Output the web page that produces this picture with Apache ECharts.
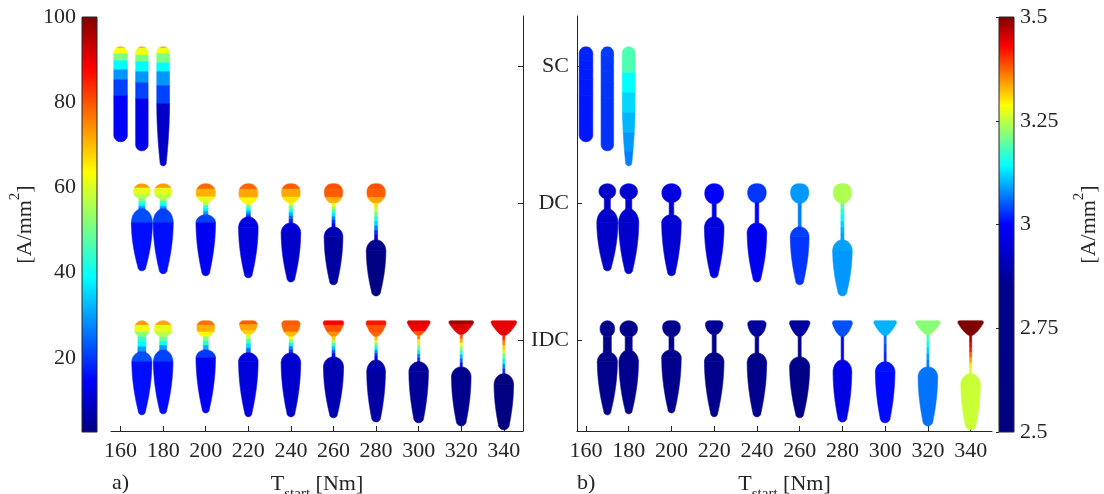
<!DOCTYPE html>
<html><head><meta charset="utf-8">
<script src="https://cdn.jsdelivr.net/npm/echarts@6/dist/echarts.min.js"></script>
<style>html,body{margin:0;padding:0;background:#fff}#c{width:1104px;height:494px}</style>
</head><body><div id="c"></div>
<script>
// ================= DATA =================
const rowNames = ['IDC', 'DC', 'SC'];
const rowValues = [100, 200, 300];            // y value of each winding row
const tickT = [160, 180, 200, 220, 240, 260, 280, 300, 320, 340];
const jTicksA = [20, 40, 60, 80, 100];
const jTicksB = [2.5, 2.75, 3, 3.25, 3.5];
const jRangeA = [2.6, 100];
const jRangeB = [2.5, 3.5];

const tSC = [160, 170, 180];
const tDC = [170, 180, 200, 220, 240, 260, 280];
const tIDC = [170, 180, 200, 220, 240, 260, 280, 300, 320, 340];

// slot geometry in y-axis units: [headW, headH, headShape, neckW, neckL, bodyW, shoulder, bottomW, bodyL, straight]
const geomSC = [
  [0, 0, 0, 0, 0, 9.9, 4.9, 9.9, 69.3, 0],
  [0, 0, 0, 0, 0, 9.1, 4.6, 9.1, 75.9, 0],
  [0, 0, 0, 0, 0, 9.3, 4.6, 4.4, 86.9, 36.5]
];
const geomDC = [
  [12.2, 10.9, 0.0, 4.4, 7.3, 15.3, 10.2, 5.8, 45.3, 0],
  [12.8, 11.3, 0.0, 4.4, 6.9, 14.6, 10.2, 5.8, 47.4, 0],
  [14.2, 13.6, 0.05, 3.3, 9.0, 14.2, 5.8, 5.8, 44.5, 0],
  [14.2, 14.6, 0.1, 2.9, 9.5, 14.2, 8.0, 5.8, 44.5, 0],
  [14.2, 13.9, 0.15, 2.6, 14.6, 14.2, 7.3, 5.8, 43.1, 0],
  [14.2, 14.2, 0.2, 2.2, 17.2, 13.6, 7.3, 5.8, 42.3, 0],
  [14.2, 14.2, 0.2, 2.2, 26.7, 14.2, 8.0, 6.6, 40.9, 0]
];
const geomIDC = [
  [10.6, 11.7, 0.0, 5.8, 10.9, 14.6, 7.3, 5.1, 46.0, 0],
  [12.8, 11.7, 0.0, 5.1, 9.5, 14.2, 8.8, 5.1, 46.7, 0],
  [14.2, 11.7, 0.3, 3.6, 9.5, 14.2, 5.8, 5.1, 46.0, 0],
  [14.8, 10.2, 0.6, 2.9, 13.1, 14.2, 6.6, 5.1, 46.7, 0],
  [15.5, 11.7, 0.7, 2.6, 11.7, 14.2, 7.3, 5.8, 46.7, 0],
  [16.8, 11.7, 0.9, 2.2, 14.6, 14.6, 7.3, 5.8, 44.5, 0],
  [16.4, 11.7, 0.9, 1.8, 16.8, 13.6, 8.8, 6.6, 45.3, 0],
  [18.2, 10.9, 1.0, 1.5, 19.0, 14.2, 7.3, 7.3, 44.5, 0],
  [19.7, 10.2, 1.0, 1.5, 23.4, 14.2, 7.3, 7.3, 43.1, 0],
  [20.4, 10.9, 1.0, 1.5, 27.7, 14.2, 8.0, 8.0, 40.9, 0]
];

// SC conductor layers: bottom depth of each layer and its current density
const scDepthA = [
  [0.9, 5.1, 10.2, 16.8, 24.1, 35.8, 69.3],
  [0.9, 6.1, 10.9, 18.2, 26.3, 38.0, 75.9],
  [0.9, 5.1, 11.7, 18.2, 28.5, 41.6, 86.9]
];
const scJA = [
  [73, 63, 51, 39, 29, 21, 15],
  [73, 62, 51, 39, 29, 21, 13],
  [73, 62, 51, 39, 29, 21, 9.5]
];
const scDepthB = [
  [0.9, 5.1, 10.2, 16.8, 24.1, 35.8, 69.3],
  [0.9, 6.1, 10.9, 18.2, 26.3, 38.0, 75.9],
  [19, 33.6, 48.2, 62.8, 76.6, 86.9]
];
const scJB = [
  [3.02, 3.02, 3.018, 3.016, 3.015, 3.013, 3.012],
  [3.035, 3.033, 3.031, 3.03, 3.03, 3.028, 3.027],
  [3.186, 3.143, 3.121, 3.103, 3.086, 3.071]
];

// a) current density [A/mm2] per region (head layers, neck layers, [shoulder, body])
const dcHeadJA = [[73, 61, 57], [73, 61, 57], [78, 71, 61], [78, 72, 64], [79, 72, 66], [80, 79, 71], [80, 79, 72]];
const dcNeckJA = [[51, 44, 39, 30], [51, 44, 39, 30], [56, 45, 37, 30], [57, 46, 38, 30, 22],
  [60, 50, 40, 32, 24, 18], [64, 55, 45, 37, 28, 20, 14], [66, 58, 50, 42, 35, 27, 19, 12]];
const dcBodyJA = [[22, 16], [21, 16], [21, 13.6], [12.5, 11.8], [11, 9.9], [7.5, 5.8], [4, 2.9]];

const idcHeadJA = [[73, 62, 53], [72, 61, 57], [77, 71, 63], [79, 72, 68], [79, 78, 70], [88, 80, 74],
  [86, 80, 78], [91, 89, 80], [97, 91, 90], [90, 90, 90]];
const idcNeckJA = [[44, 39, 30], [50, 40, 30], [52, 42, 32], [58, 46, 36, 26], [62, 50, 38, 28, 20],
  [68, 56, 44, 33, 24, 16], [70, 60, 50, 40, 30, 20, 14], [76, 66, 56, 46, 36, 26, 18],
  [80, 72, 62, 52, 42, 32, 24, 16], [84, 76, 68, 58, 48, 38, 28, 20]];
const idcBodyJA = [[22, 16], [21, 15.5], [20, 13.6], [12, 11.5], [10.5, 10], [8, 7.5], [7, 6], [5, 5], [4, 4], [2.6, 2.6]];

// b) current density [A/mm2] per region
const dcHeadJB = [[2.93], [2.945], [2.96], [3.0], [3.03], [3.085], [3.24]];
const dcNeckJB = [[2.93], [2.94], [2.95], [2.98], [3.0], [3.07], [3.2, 3.16, 3.14, 3.12, 3.1, 3.09]];
const dcBodyJB = [[2.935, 2.93], [2.94, 2.935], [2.945, 2.94], [2.96, 2.955], [2.985, 2.98], [3.035, 3.03], [3.09, 3.085]];

const idcHeadJB = [[2.85], [2.85], [2.85], [2.86], [2.87], [2.87], [3.045], [3.1], [3.22], [3.5]];
const idcNeckJB = [[2.85], [2.85], [2.84], [2.84], [2.84], [2.8], [2.98], [3.06, 3.04, 3.02],
  [3.19, 3.15, 3.12, 3.09, 3.07], [3.48, 3.45, 3.42, 3.38, 3.34, 3.3, 3.27]];
const idcBodyJB = [[2.85, 2.85], [2.85, 2.85], [2.84, 2.84], [2.84, 2.84], [2.84, 2.83], [2.75, 2.7],
  [2.97, 2.965], [3.01, 3.005], [3.066, 3.064], [3.255, 3.255]];

// ================= STYLE =================
const FONT = 'Liberation Serif';
const TXT = '#262626';
const TOP_OFFSET = 14;     // glyph top above its row value (y units)
const HEAD_P = 2.1;
const TAPER_Q = 1.9;
const JET = [[0, 0, 0.5], [0, 0, 1], [0, 1, 1], [1, 1, 0], [1, 0, 0], [0.5, 0, 0]];
const JET_T = [0, 0.125, 0.375, 0.625, 0.875, 1];
const cmapA = { v: JET_T.map(t => jRangeA[0] + t * (jRangeA[1] - jRangeA[0])), c: JET };
const cmapB = { v: [2.5, 2.85, 3.0, 3.143, 3.286, 3.429, 3.5],
  c: [[0, 0, 0.5], [0, 0, 0.55], [0, 0, 1], [0, 1, 1], [1, 1, 0], [1, 0, 0], [0.5, 0, 0]] };

function rgb(c) { return 'rgb(' + c.map(x => Math.round(Math.max(0, Math.min(1, x)) * 255)).join(',') + ')'; }
function colorOf(cm, v) {
  const vs = cm.v;
  if (v <= vs[0]) return rgb(cm.c[0]);
  if (v >= vs[vs.length - 1]) return rgb(cm.c[vs.length - 1]);
  for (let i = 0; i < vs.length - 1; i++) {
    if (v <= vs[i + 1]) {
      const f = (v - vs[i]) / (vs[i + 1] - vs[i]);
      return rgb(cm.c[i].map((x, k) => x + (cm.c[i + 1][k] - x) * f));
    }
  }
}

function widthAt(g, d) {
  const [hw, hh, hs, nw, nl, bw, sh, bb, bl, st] = g;
  if (d < hh) {
    const t = d / hh;
    const round = hw * Math.pow(Math.max(0, 1 - Math.pow(Math.abs(2 * t - 1), HEAD_P)), 1 / HEAD_P);
    const corner = Math.sqrt(Math.min(1, t / 0.14));
    const bowl = hw * Math.pow(Math.max(0, 1 - t), 0.6) * (0.82 + 0.18 * corner);
    let w = (1 - hs) * round + hs * bowl;
    if (t > 0.5) w = Math.max(w, nw);
    return w;
  }
  d -= hh;
  if (d < nl) return nw;
  const s = d - nl;
  let w;
  if (s < sh) {
    w = bw * Math.sqrt(Math.max(0, 1 - Math.pow(1 - s / sh, 2)));
    if (hh > 0 || nl > 0) w = Math.max(w, nw);
  } else if (s < sh + st) {
    w = bw;
  } else if (s < bl - bb / 2) {
    const u = (s - sh - st) / (bl - bb / 2 - sh - st);
    w = bb + (bw - bb) * (1 - Math.pow(u, TAPER_Q));
  } else {
    const u = Math.min(1, (s - (bl - bb / 2)) / (bb / 2));
    w = bb * Math.sqrt(Math.max(0, 1 - u * u));
  }
  return w;
}

function regionBands(g, hv, nv, bv) {
  const [hw, hh, hs, nw, nl, bw, sh, bb, bl] = g;
  const hf = hv.length === 3 ? [0.28, 0.42, 0.30] : hv.map(() => 1 / hv.length);
  const bands = [];
  let d = 0;
  hv.forEach((v, k) => { const h = hf[k] * hh; bands.push([d, d + h, v]); d += h; });
  nv.forEach(v => { const h = nl / nv.length; bands.push([d, d + h, v]); d += h; });
  bands.push([d, d + sh, bv[0]]); d += sh;
  bands.push([d, hh + nl + bl, bv[1]]);
  return bands;
}
function layerBands(depths, vals) {
  let p = 0;
  return depths.map((dd, k) => { const b = [p, dd, vals[k]]; p = dd; return b; });
}

function glyphSeries(axis, tArr, row, geom, bandsOf, cm) {
  return {
    type: 'custom', xAxisIndex: axis, yAxisIndex: axis, clip: false, silent: true, animation: false,
    data: tArr.map((t, i) => [t, row, i]),
    renderItem: function (params, api) {
      const i = api.value(2);
      const g = geom[i];
      const top = api.coord([api.value(0), api.value(1) + TOP_OFFSET]);
      const k = api.size([0, 100])[1] / 100;
      const cx = top[0];
      const children = bandsOf(i).map(b => {
        const [d0, d1, v] = b;
        const left = [], right = [];
        const n = Math.max(2, Math.ceil((d1 - d0) / 0.2));
        for (let j = 0; j <= n; j++) {
          const d = d0 + (d1 - d0) * j / n;
          const dd = j === 0 ? d + 1e-6 : Math.min(d, d1 - 1e-6);
          const w = widthAt(g, dd) * k / 2;
          const y = top[1] + d * k;
          left.push([cx - w, y]);
          right.push([cx + w, y]);
        }
        const col = colorOf(cm, v);
        return { type: 'polygon', shape: { points: left.concat(right.reverse()) },
          style: { fill: col, stroke: col, lineWidth: 0.7 } };
      });
      return { type: 'group', children: children };
    }
  };
}

function colorbarSeries(axis, range, cm) {
  const span = range[1] - range[0];
  const stops = cm.v.map((v, i) => ({ offset: Math.max(0, Math.min(1, (v - range[0]) / span)), color: rgb(cm.c[i]) }));
  return {
    type: 'custom', xAxisIndex: axis, yAxisIndex: axis, clip: false, silent: true, animation: false,
    data: [[0, range[0], range[1]]],
    renderItem: function (params, api) {
      const p0 = api.coord([0, api.value(2)]);
      const p1 = api.coord([1, api.value(1)]);
      return { type: 'rect', shape: { x: p0[0], y: p0[1], width: p1[0] - p0[0], height: p1[1] - p0[1] },
        style: { fill: { type: 'linear', x: 0, y: 1, x2: 0, y2: 0, colorStops: stops }, stroke: TXT, lineWidth: 1 } };
    }
  };
}

const lineSty = { color: TXT, width: 1 };
const labelSty = { fontFamily: FONT, fontSize: 22, color: TXT };
const xNameRich = {
  t: { fontFamily: FONT, fontSize: 22, color: TXT, verticalAlign: 'bottom', padding: [0, 0, 7, 0] },
  s: { fontFamily: FONT, fontSize: 15, color: TXT, verticalAlign: 'bottom' }
};
const jNameRich = {
  t: { fontFamily: FONT, fontSize: 22, color: TXT, verticalAlign: 'bottom', padding: [6, 0, 0, 0] },
  p: { fontFamily: FONT, fontSize: 15, color: TXT, verticalAlign: 'top' }
};

function xAxisT(grid, min, max) {
  return {
    gridIndex: grid, type: 'value', min: min, max: max,
    axisLine: { show: true, onZero: false, lineStyle: lineSty },
    axisTick: { show: true, inside: true, length: 5, customValues: tickT, lineStyle: lineSty },
    axisLabel: { show: true, customValues: tickT, margin: 9, ...labelSty },
    splitLine: { show: false },
    name: '{t|T}{s|start}{t| [Nm]}', nameLocation: 'middle', nameGap: 42,
    nameTextStyle: { rich: xNameRich }
  };
}
function yAxisRows(grid, pos, showLabels) {
  return {
    gridIndex: grid, type: 'value', position: pos, min: 33.6, max: 336.5,
    axisLine: { show: true, onZero: false, lineStyle: lineSty },
    axisTick: { show: true, inside: true, length: 5, customValues: rowValues, lineStyle: lineSty },
    axisLabel: { show: showLabels, customValues: rowValues, margin: 8, ...labelSty,
      formatter: v => rowNames[rowValues.indexOf(v)] || '' },
    splitLine: { show: false }
  };
}
function cbarX(grid) { return { gridIndex: grid, type: 'value', min: 0, max: 1, show: false }; }
function cbarY(grid, pos, range, ticks, gap) {
  return {
    gridIndex: grid, type: 'value', position: pos, min: range[0], max: range[1],
    axisLine: { show: false },
    axisTick: { show: true, inside: true, length: 3, customValues: ticks, lineStyle: lineSty },
    axisLabel: { show: true, customValues: ticks, margin: 6, showMinLabel: true, showMaxLabel: true, ...labelSty },
    splitLine: { show: false },
    name: '{t|[A/mm}{p|2}{t|]}', nameLocation: 'middle', nameRotate: 90, nameGap: gap,
    nameTextStyle: { rich: jNameRich }
  };
}

const option = {
  backgroundColor: '#fff',
  animation: false,
  grid: [
    { left: 111, top: 16, width: 412, height: 415, outerBoundsMode: 'none', containLabel: false },
    { left: 577, top: 16, width: 415, height: 415, outerBoundsMode: 'none', containLabel: false },
    { left: 82, top: 17, width: 15, height: 415, outerBoundsMode: 'none', containLabel: false },
    { left: 999, top: 17, width: 15, height: 415, outerBoundsMode: 'none', containLabel: false }
  ],
  xAxis: [xAxisT(0, 155.5, 349), xAxisT(1, 155.8, 350), cbarX(2), cbarX(3)],
  yAxis: [yAxisRows(0, 'right', false), yAxisRows(1, 'left', true),
    cbarY(2, 'left', jRangeA, jTicksA, 46), cbarY(3, 'right', jRangeB, jTicksB, 58)],
  graphic: [
    { type: 'text', left: 112, top: 472, style: { text: 'a)', font: '22px "Liberation Serif"', fill: TXT } },
    { type: 'text', left: 577, top: 472, style: { text: 'b)', font: '22px "Liberation Serif"', fill: TXT } }
  ],
  series: [
    colorbarSeries(2, jRangeA, cmapA),
    colorbarSeries(3, jRangeB, cmapB),
    glyphSeries(0, tSC, rowValues[2], geomSC, i => layerBands(scDepthA[i], scJA[i]), cmapA),
    glyphSeries(0, tDC, rowValues[1], geomDC, i => regionBands(geomDC[i], dcHeadJA[i], dcNeckJA[i], dcBodyJA[i]), cmapA),
    glyphSeries(0, tIDC, rowValues[0], geomIDC, i => regionBands(geomIDC[i], idcHeadJA[i], idcNeckJA[i], idcBodyJA[i]), cmapA),
    glyphSeries(1, tSC, rowValues[2], geomSC, i => layerBands(scDepthB[i], scJB[i]), cmapB),
    glyphSeries(1, tDC, rowValues[1], geomDC, i => regionBands(geomDC[i], dcHeadJB[i], dcNeckJB[i], dcBodyJB[i]), cmapB),
    glyphSeries(1, tIDC, rowValues[0], geomIDC, i => regionBands(geomIDC[i], idcHeadJB[i], idcNeckJB[i], idcBodyJB[i]), cmapB)
  ]
};

const chart = echarts.init(document.getElementById('c'), null, { renderer: 'canvas' });
chart.setOption(option);
</script>
</body></html>
